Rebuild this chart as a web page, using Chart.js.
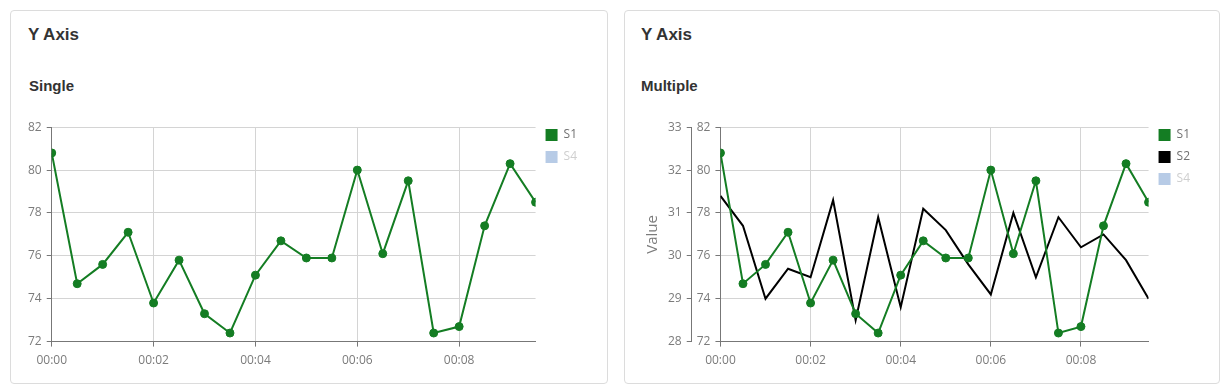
<!DOCTYPE html>
<html><head><meta charset="utf-8">
<script src="https://cdn.jsdelivr.net/npm/chart.js@4.4.1/dist/chart.umd.min.js"></script>
<style>
body{margin:0;background:#fff;font-family:"Liberation Sans",Arial,sans-serif;width:1231px;height:391px;overflow:hidden;position:relative;}
.card{position:absolute;top:10px;height:374px;border:1px solid #dcdcdc;border-radius:4px;box-sizing:border-box;}
.title{position:absolute;font-weight:bold;font-size:17px;line-height:17px;color:#333;white-space:nowrap;}
.sub{position:absolute;font-weight:bold;font-size:15px;line-height:15px;color:#333;white-space:nowrap;}
.wrap{position:absolute;}
</style></head>
<body>
<div class="card" style="left:10px;width:598px;"></div>
<div class="card" style="left:624px;width:596px;"></div>
<div class="title" style="left:28px;top:26px;">Y Axis</div>
<div class="sub" style="left:29px;top:78px;">Single</div>
<div class="title" style="left:641px;top:26px;">Y Axis</div>
<div class="sub" style="left:641px;top:78px;">Multiple</div>
<div class="wrap" style="left:23px;top:115px;width:564px;height:260px;"><canvas id="c1"></canvas></div>
<div class="wrap" style="left:638px;top:115px;width:562px;height:260px;"><canvas id="c2"></canvas></div>
<script>
// time of each sample, in minutes
const times = [0, 0.5, 1, 1.5, 2, 2.5, 3, 3.5, 4, 4.5, 5, 5.5, 6, 6.5, 7, 7.5, 8, 8.5, 9, 9.5];
const s1Values = [80.8, 74.7, 75.6, 77.1, 73.8, 75.8, 73.3, 72.4, 75.1, 76.7, 75.9, 75.9, 80.0, 76.1, 79.5, 72.4, 72.7, 77.4, 80.3, 78.5];
const s2Values = [31.4, 30.7, 29.0, 29.7, 29.5, 31.3, 28.5, 30.9, 28.8, 31.1, 30.6, 29.8, 29.1, 31.0, 29.5, 30.9, 30.2, 30.5, 29.9, 29.0];
const s4Values = [];
const xTickValues = [0, 2, 4, 6, 8];
const xTickLabels = ["00:00", "00:02", "00:04", "00:06", "00:08"];

const GREEN = '#147d23';
const GRID = '#d4d4d4';
const AXIS = '#777777';
const TICKC = '#7b7b7b';
const FONT = {family: '"Open Sans", "Liberation Sans", sans-serif', size: 12};

function pts(vals){ return vals.map((v, i) => ({x: times[i], y: v})); }

function xScale(){
  return {
    type: 'linear', min: 0, max: 9.5,
    afterBuildTicks: s => { s.ticks = xTickValues.map(v => ({value: v})); },
    grid: {color: GRID, tickColor: AXIS, tickLength: 5},
    border: {color: AXIS},
    ticks: {color: TICKC, font: FONT, padding: 7, maxRotation: 0, autoSkip: false,
      callback: (v) => { const i = xTickValues.indexOf(v); return i >= 0 ? xTickLabels[i] : ''; }}
  };
}
function legendOpts(){
  return {
    position: 'right', align: 'start',
    onClick: null,
    labels: {
      boxWidth: 12, boxHeight: 12, padding: 10, font: FONT, color: '#707070',
      generateLabels: chart => chart.data.datasets.map((ds, i) => ({
        text: ds.label, fillStyle: ds.legendColor, strokeStyle: ds.legendColor, lineWidth: 0,
        hidden: false, datasetIndex: i,
        fontColor: chart.isDatasetVisible(i) ? '#707070' : '#cfcfcf'
      }))
    }
  };
}
function s1(){
  return {label: 'S1', data: pts(s1Values), borderColor: GREEN, backgroundColor: GREEN, legendColor: GREEN,
    borderWidth: 2, pointRadius: 4, pointBorderWidth: 1, pointHoverRadius: 4, tension: 0, yAxisID: 'y'};
}
function s4(){
  return {label: 'S4', data: pts(s4Values), borderColor: '#b7cbe6', backgroundColor: '#b7cbe6', legendColor: '#b7cbe6', hidden: true, yAxisID: 'y'};
}

new Chart(document.getElementById('c1'), {
  type: 'line',
  data: {datasets: [s1(), s4()]},
  options: {
    responsive: true, maintainAspectRatio: false, animation: false,
    layout: {padding: {top: 4, left: 0, right: 0, bottom: 0}},
    plugins: {legend: legendOpts(), tooltip: {enabled: false}},
    scales: {
      x: xScale(),
      y: {min: 72, max: 82, position: 'left',
        grid: {color: GRID, tickColor: AXIS, tickLength: 5}, border: {color: AXIS},
        ticks: {stepSize: 2, color: TICKC, font: FONT, padding: 5}}
    }
  }
});

new Chart(document.getElementById('c2'), {
  type: 'line',
  data: {datasets: [s1(),
    {label: 'S2', data: pts(s2Values), borderColor: '#000', backgroundColor: '#000', legendColor: '#000',
      borderWidth: 2, pointRadius: 0, pointHoverRadius: 0, tension: 0, yAxisID: 'y2'},
    s4()]},
  options: {
    responsive: true, maintainAspectRatio: false, animation: false,
    layout: {padding: {top: 4, left: 0, right: 0, bottom: 0}},
    plugins: {legend: legendOpts(), tooltip: {enabled: false}},
    scales: {
      x: xScale(),
      y: {min: 72, max: 82, position: 'left', weight: 0,
        grid: {color: GRID, tickColor: AXIS, tickLength: 5}, border: {color: AXIS},
        ticks: {stepSize: 2, color: TICKC, font: FONT, padding: 5}},
      y2: {min: 28, max: 33, position: 'left', weight: 1,
        grid: {drawOnChartArea: false, tickColor: AXIS, tickLength: 5}, border: {color: AXIS},
        ticks: {stepSize: 1, color: TICKC, font: FONT, padding: 5},
        title: {display: true, text: 'Value', color: '#7b7b7b', font: {family: FONT.family, size: 15}, padding: {top: 6, bottom: 1}}}
    }
  }
});
</script>
</body></html>
